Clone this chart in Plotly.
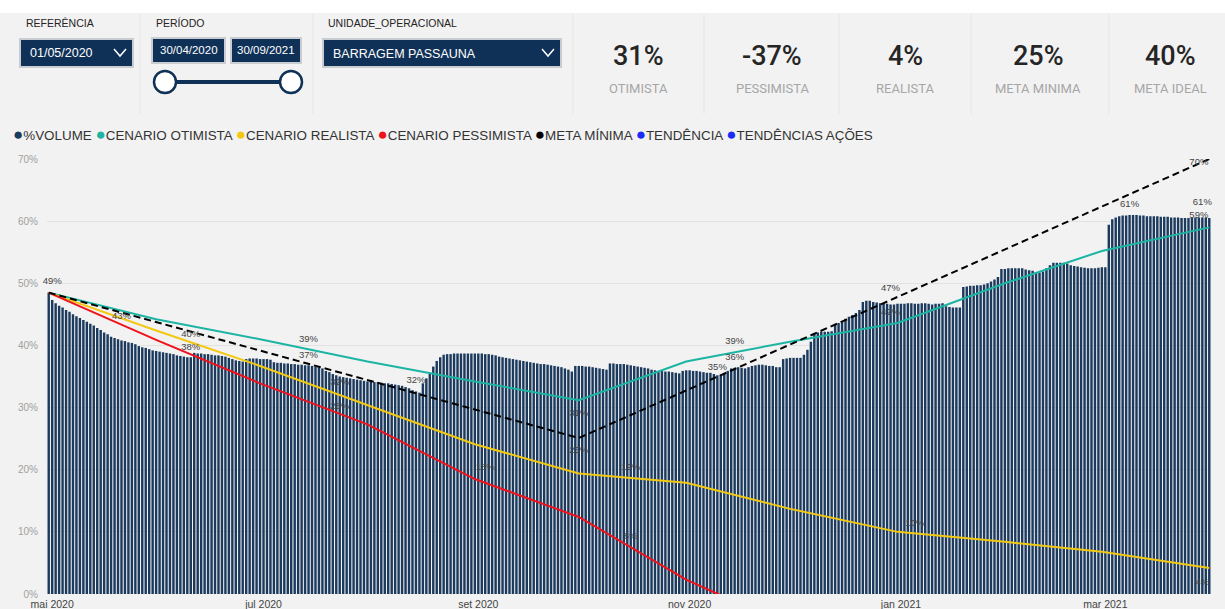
import pandas as pd
import plotly.graph_objects as go

# %VOLUME diario (30/04/2020 a 31/03/2021)
vol_abr = [48.5]
vol_mai = [47.3, 46.8, 46.4, 46.1, 45.7, 45.4, 45.0, 44.7, 44.4, 44.1,
           43.8, 43.5, 43.2, 42.8, 42.5, 42.1, 41.8, 41.4, 41.2, 41.0,
           40.8, 40.7, 40.5, 40.4, 40.2, 39.9, 39.7, 39.6, 39.4, 39.2, 39.1]
vol_jun = [39.0, 38.9, 38.8, 38.7, 38.6, 38.4, 38.3, 38.2, 38.1, 38.1,
           38.8, 38.7, 38.7, 38.6, 38.6, 38.5, 38.4, 38.4, 38.3, 38.2,
           38.0, 37.8, 37.6, 37.5, 37.4, 37.8, 37.9, 37.9, 37.9, 37.8]
vol_jul = [37.8, 37.8, 37.7, 37.3, 37.2, 37.2, 37.1, 37.1, 37.0, 37.0,
           36.9, 36.9, 36.8, 36.8, 36.7, 36.6, 36.5, 36.3, 35.9, 35.7,
           35.4, 35.2, 35.0, 34.9, 34.8, 34.7, 34.6, 34.5, 34.4, 34.3, 34.2]
vol_ago = [34.2, 34.1, 34.1, 34.0, 33.9, 33.9, 33.8, 33.7, 33.6, 33.5,
           33.3, 33.1, 32.8, 32.6, 32.4, 33.9, 34.7, 35.6, 36.6, 37.5,
           38.1, 38.5, 38.6, 38.6, 38.7, 38.7, 38.7, 38.7, 38.7, 38.7, 38.7]
vol_set = [38.7, 38.7, 38.6, 38.6, 38.5, 38.4, 38.2, 38.1, 38.0, 37.9,
           37.8, 37.7, 37.6, 37.5, 37.4, 37.3, 37.2, 37.1, 37.0, 37.0,
           36.9, 36.8, 36.7, 36.6, 36.5, 36.3, 36.1, 35.8, 36.7, 36.7]
vol_out = [36.7, 36.6, 36.6, 36.5, 36.4, 36.3, 36.2, 36.1, 37.1, 37.1,
           37.0, 37.0, 37.0, 36.9, 36.8, 36.7, 36.6, 36.5, 36.4, 36.3,
           36.1, 36.0, 35.9, 35.9, 35.8, 35.8, 35.7, 35.6, 35.5, 35.9, 36.0]
vol_nov = [36.0, 35.9, 35.9, 35.8, 35.7, 35.6, 35.6, 35.4, 35.2, 35.3,
           35.4, 35.9, 36.3, 36.4, 36.5, 36.4, 36.3, 36.5, 36.7, 36.8,
           36.9, 36.9, 36.8, 36.7, 36.7, 36.5, 36.5, 37.8, 37.9, 38.0]
vol_dez = [38.0, 38.0, 38.0, 38.5, 39.3, 40.6, 42.0, 42.1, 42.2, 42.2,
           42.2, 42.3, 43.3, 43.6, 43.9, 44.3, 44.6, 44.9, 45.2, 45.7,
           47.0, 47.2, 47.2, 47.0, 46.9, 46.8, 46.7, 46.7, 46.6, 46.6, 46.7]
vol_jan = [46.7, 46.7, 46.8, 46.8, 46.7, 46.7, 46.8, 46.8, 46.7, 46.6,
           46.7, 46.7, 46.8, 46.3, 46.2, 46.1, 46.1, 46.1, 49.4, 49.5,
           49.6, 49.6, 49.7, 49.7, 49.8, 50.0, 50.3, 50.6, 51.0, 52.3, 52.3]
vol_fev = [52.4, 52.4, 52.4, 52.4, 52.4, 52.2, 52.1, 52.0, 51.8, 51.7,
           51.9, 52.4, 52.9, 53.3, 53.3, 53.3, 53.3, 53.2, 52.9, 52.8,
           52.7, 52.6, 52.5, 52.4, 52.4, 52.4, 52.5, 52.6]
vol_mar = [52.6, 59.4, 60.3, 60.6, 60.8, 60.9, 60.9, 61.0, 61.0, 61.0,
           60.9, 60.9, 60.8, 60.8, 60.8, 60.8, 60.7, 60.7, 60.7, 60.6,
           60.6, 60.6, 60.5, 60.5, 60.5, 60.5, 60.6, 60.6, 60.6, 60.6, 60.5]

volume = (vol_abr + vol_mai + vol_jun + vol_jul + vol_ago + vol_set + vol_out
          + vol_nov + vol_dez + vol_jan + vol_fev + vol_mar)
dias = pd.date_range("2020-04-30", "2021-03-31", freq="D")

# cenarios (fim de mes)
meses = ["2020-04-30", "2020-05-31", "2020-06-30", "2020-07-31", "2020-08-31",
         "2020-09-30", "2020-10-31", "2020-11-30", "2020-12-31", "2021-01-31",
         "2021-02-28", "2021-03-31"]
otimista = [48.5, 44.2, 41.0, 37.4, 34.2, 31.2, 37.4, 40.6, 43.6, 50.0, 55.2, 59.0]
realista = [48.5, 42.4, 36.7, 30.4, 24.1, 19.4, 17.9, 13.7, 10.0, 8.4, 6.8, 4.2]
pessimista = [48.5, 40.9, 33.9, 27.3, 18.5, 12.4, 2.3, -5.2]
meta_datas = ["2020-04-30", "2020-09-30", "2021-03-31"]
meta_minima = [48.5, 25.1, 70.0]

# rotulos de dados
rot_datas = ["2020-05-01", "2020-05-21", "2020-06-10", "2020-06-10", "2020-07-14",
             "2020-07-14", "2020-07-23", "2020-07-23", "2020-08-14", "2020-09-30",
             "2020-09-30", "2020-09-03", "2020-10-15", "2020-10-15", "2020-11-14",
             "2020-11-14", "2020-11-09", "2020-12-29", "2020-12-29", "2021-01-05",
             "2021-03-08", "2021-03-28", "2021-03-29", "2021-03-28", "2021-03-29"]
rot_valores = [50.2, 44.7, 41.8, 39.6, 41.0, 38.3, 34.0, 30.1, 34.3, 29.1,
               23.0, 20.4, 20.4, 9.2, 40.6, 38.1, 36.5, 49.2, 45.2, 11.4,
               62.6, 69.4, 63.0, 60.9, 1.9]
rot_textos = ["49%", "43%", "40%", "38%", "39%", "37%", "32%", "28%", "32%", "31%",
              "25%", "18%", "19%", "8%", "39%", "36%", "35%", "47%", "42%", "10%",
              "61%", "70%", "61%", "59%", "4%"]

kpi_valores = ["31%", "-37%", "4%", "25%", "40%"]
kpi_nomes = ["OTIMISTA", "PESSIMISTA", "REALISTA", "META MINIMA", "META IDEAL"]
kpi_x = [638, 772, 905, 1038, 1170]

tick_datas = ["2020-05-01", "2020-07-01", "2020-09-01", "2020-11-01", "2021-01-01", "2021-03-01"]
tick_textos = ["mai 2020", "jul 2020", "set 2020", "nov 2020", "jan 2021", "mar 2021"]
y_ticks = [0, 10, 20, 30, 40, 50, 60, 70]

NAVY = "#1b3a5e"
TEAL = "#1cb5a3"
YELLOW = "#f2c811"
RED = "#f0121c"
FONT = "Liberation Sans"


def px(x):
    return (x - 47) / 1164


def py(y):
    return (594 - y) / 435


fig = go.Figure()
fig.add_trace(go.Bar(x=dias, y=volume, marker_color=NAVY, marker_line_width=0,
                     name="%VOLUME"))
fig.add_trace(go.Scatter(x=meses, y=otimista, mode="lines", name="CENARIO OTIMISTA",
                         line=dict(color=TEAL, width=2)))
fig.add_trace(go.Scatter(x=meses, y=realista, mode="lines", name="CENARIO REALISTA",
                         line=dict(color=YELLOW, width=2)))
fig.add_trace(go.Scatter(x=meses[:len(pessimista)], y=pessimista, mode="lines",
                         name="CENARIO PESSIMISTA", line=dict(color=RED, width=2)))
fig.add_trace(go.Scatter(x=meta_datas, y=meta_minima, mode="lines", name="META MÍNIMA",
                         line=dict(color="black", width=2, dash="7px,4px")))
fig.add_trace(go.Scatter(x=rot_datas, y=rot_valores, mode="text", text=rot_textos,
                         textfont=dict(family=FONT, size=9.5, color="#444444"),
                         cliponaxis=False, hoverinfo="skip"))

shapes = []
annots = []

# faixa branca superior e divisorias
shapes.append(dict(type="rect", xref="paper", yref="paper", x0=px(0), x1=px(1225),
                   y0=py(13), y1=py(0), fillcolor="white", line_width=0))
for xd in [140, 313, 573, 704, 839, 971, 1109]:
    shapes.append(dict(type="line", xref="paper", yref="paper", x0=px(xd), x1=px(xd),
                       y0=py(14), y1=py(114), line=dict(color="#e6e6e6", width=1)))

# filtros
for txt, x in [("REFERÊNCIA", 24), ("PERÍODO", 154), ("UNIDADE_OPERACIONAL", 326)]:
    annots.append(dict(text=txt, x=px(x), y=py(23), xref="paper", yref="paper",
                       xanchor="left", yanchor="middle", showarrow=False,
                       font=dict(family=FONT, size=10.5, color="#252423")))

caixas = [(20, 39, 133, 67), (152, 38, 225, 63), (231, 38, 301, 63), (323, 39, 561, 67)]
for x0, y0, x1, y1 in caixas:
    shapes.append(dict(type="rect", xref="paper", yref="paper", x0=px(x0), x1=px(x1),
                       y0=py(y1), y1=py(y0), fillcolor="#0f3158",
                       line=dict(color="#c9ccd0", width=2)))

annots.append(dict(text="01/05/2020", x=px(28), y=py(53), xref="paper", yref="paper",
                   xanchor="left", yanchor="middle", showarrow=False,
                   font=dict(family=FONT, size=12.5, color="white")))
annots.append(dict(text="30/04/2020", x=px(188.5), y=py(50.5), xref="paper", yref="paper",
                   xanchor="center", yanchor="middle", showarrow=False,
                   font=dict(family=FONT, size=11.5, color="white")))
annots.append(dict(text="30/09/2021", x=px(266), y=py(50.5), xref="paper", yref="paper",
                   xanchor="center", yanchor="middle", showarrow=False,
                   font=dict(family=FONT, size=11.5, color="white")))
annots.append(dict(text="BARRAGEM PASSAUNA", x=px(331), y=py(53.5), xref="paper", yref="paper",
                   xanchor="left", yanchor="middle", showarrow=False,
                   font=dict(family=FONT, size=12.5, color="white")))

for cx in [120, 548]:
    shapes.append(dict(type="path", xref="paper", yref="paper",
                       path="M %f,%f L %f,%f L %f,%f" % (px(cx - 6), py(49), px(cx), py(56),
                                                         px(cx + 6), py(49)),
                       line=dict(color="white", width=1.5)))

# slider do periodo
shapes.append(dict(type="line", xref="paper", yref="paper", x0=px(165), x1=px(291),
                   y0=py(82), y1=py(82), line=dict(color="#0f3158", width=4)))
for cx in [165, 291]:
    shapes.append(dict(type="circle", xref="paper", yref="paper", x0=px(cx - 11),
                       x1=px(cx + 11), y0=py(93), y1=py(71), fillcolor="white",
                       line=dict(color="#0f3158", width=2.5)))

# cartoes
for val, nome, x in zip(kpi_valores, kpi_nomes, kpi_x):
    annots.append(dict(text=val, x=px(x), y=py(56), xref="paper", yref="paper",
                       xanchor="center", yanchor="middle", showarrow=False,
                       font=dict(family="Roboto", size=27, color="#252525", weight=500)))
    annots.append(dict(text=nome, x=px(x), y=py(89), xref="paper", yref="paper",
                       xanchor="center", yanchor="middle", showarrow=False,
                       font=dict(family="Roboto", size=13, color="#a6a6a6")))

# legenda
leg_itens = [("%VOLUME", NAVY), ("CENARIO OTIMISTA", TEAL), ("CENARIO REALISTA", YELLOW),
             ("CENARIO PESSIMISTA", RED), ("META MÍNIMA", "black"),
             ("TENDÊNCIA", "#1a2cf5"), ("TENDÊNCIAS AÇÕES", "#1a2cf5")]
leg_txt = " ".join('<span style="color:%s;font-size:17px">●</span>%s' % (c, n)
                   for n, c in leg_itens)
annots.append(dict(text=leg_txt, x=px(11), y=py(135), xref="paper", yref="paper",
                   xanchor="left", yanchor="middle", showarrow=False,
                   font=dict(family=FONT, size=13.4, color="#333333")))

fig.update_layout(
    width=1225, height=609,
    margin=dict(l=47, r=14, t=159, b=15),
    paper_bgcolor="#f2f2f2", plot_bgcolor="#f2f2f2",
    showlegend=False, bargap=0.3,
    shapes=shapes, annotations=annots,
    font=dict(family=FONT),
)
fig.update_xaxes(range=["2020-04-29 12:00", "2021-03-31 12:00"], tickvals=tick_datas,
                 ticktext=tick_textos, showgrid=False, ticks="", zeroline=False,
                 automargin=False, ticklabelstandoff=2,
                 tickfont=dict(size=10.5, color="#444444"))
fig.update_yaxes(range=[0, 70], tickvals=y_ticks, ticktext=["%d%%" % v for v in y_ticks],
                 showgrid=True, gridcolor="#e2e2e2", zeroline=False, automargin=False,
                 tickfont=dict(size=10, color="#a0a0a0"), ticklabelstandoff=8)

fig.write_html("out.html", config={"displayModeBar": False},
               post_script="document.body.style.margin='0px';")
